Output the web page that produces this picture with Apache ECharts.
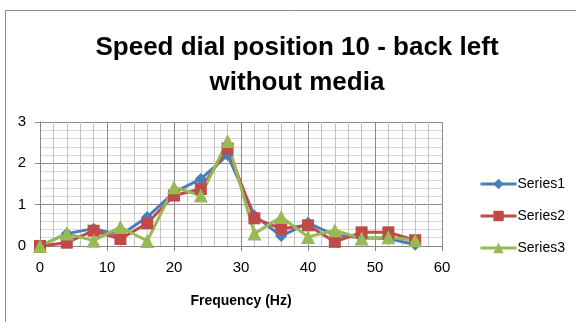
<!DOCTYPE html>
<html><head><meta charset="utf-8">
<script src="https://cdn.jsdelivr.net/npm/echarts@6/dist/echarts.min.js"></script>
<style>html,body{margin:0;padding:0;background:#fff}#c{width:576px;height:322px}</style>
</head><body><div id="c"></div>
<script>
const frequency = [0,4,8,12,16,20,24,28,32,36,40,44,48,52,56];
const series1 = [0,0.3,0.42,0.26,0.7,1.3,1.62,2.2,0.74,0.24,0.56,0.26,0.2,0.18,0.03];
const series2 = [0,0.08,0.37,0.17,0.55,1.22,1.38,2.36,0.67,0.42,0.5,0.1,0.33,0.33,0.14];
const series3 = [0,0.3,0.13,0.46,0.12,1.42,1.22,2.54,0.3,0.7,0.22,0.38,0.18,0.21,0.14];
const xTicks = [0,10,20,30,40,50,60];
const yTicks = [0,1,2,3];
const seriesNames = ['Series1','Series2','Series3'];

const chart = echarts.init(document.getElementById('c'), null, {renderer:'canvas'});
const font = '"Liberation Sans",sans-serif';
function mk(name, vals, color, symbol, size){
  return {name, type:'line', data: frequency.map((f,i)=>[f, vals[i]]),
    symbol, symbolSize:size, lineStyle:{width:3,color}, itemStyle:{color}, color,
    showSymbol:true, animation:false};
}
chart.setOption({
  animation:false,
  title:{text:'Speed dial position 10 - back left\nwithout media', left:292, textAlign:'center', top:25,
    textStyle:{fontFamily:font, fontSize:26, fontWeight:'bold', color:'#000', lineHeight:35}},
  graphic:[{type:'rect', shape:{x:5.5,y:10.5,width:600,height:400}, style:{fill:'none',stroke:'#8c8c8c',lineWidth:1}, silent:true}],
  legend:{orient:'vertical', left:474, top:172, itemWidth:36, itemHeight:13, itemGap:18,
    lineStyle:{width:3},
    data:seriesNames, textStyle:{fontFamily:font, fontSize:14, color:'#000', padding:[0,0,0,-4]}},
  grid:{left:40, right:134, top:122, bottom:76},
  xAxis:{type:'value', min:0, max:60, interval:10,
    name:'Frequency (Hz)', nameLocation:'middle', nameGap:48,
    nameTextStyle:{fontFamily:font, fontWeight:'bold', fontSize:14, color:'#000'},
    axisLine:{onZero:false, lineStyle:{color:'#868686'}},
    axisTick:{show:true, inside:false, length:5, lineStyle:{color:'#868686'}},
    axisLabel:{fontFamily:font, fontSize:15, color:'#000', margin:14, showMaxLabel:true},
    splitLine:{show:true, lineStyle:{color:'#8c8c8c'}},
    minorTick:{show:false, splitNumber:5},
    minorSplitLine:{show:true, lineStyle:{color:'#c4c4c4'}}},
  yAxis:{type:'value', min:0, max:3, interval:1,
    axisLine:{show:true, lineStyle:{color:'#868686'}},
    axisTick:{show:true, length:5, lineStyle:{color:'#868686'}},
    axisLabel:{fontFamily:font, fontSize:15, color:'#000', margin:14},
    splitLine:{show:true, lineStyle:{color:'#8c8c8c'}},
    minorTick:{show:false, splitNumber:5},
    minorSplitLine:{show:true, lineStyle:{color:'#d9d9d9'}}},
  series:[
    mk(seriesNames[0], series1, '#4a7ebb', 'diamond', 12),
    mk(seriesNames[1], series2, '#be4b48', 'rect', 12),
    mk(seriesNames[2], series3, '#98b954', 'triangle', 14)
  ]
});
</script></body></html>
